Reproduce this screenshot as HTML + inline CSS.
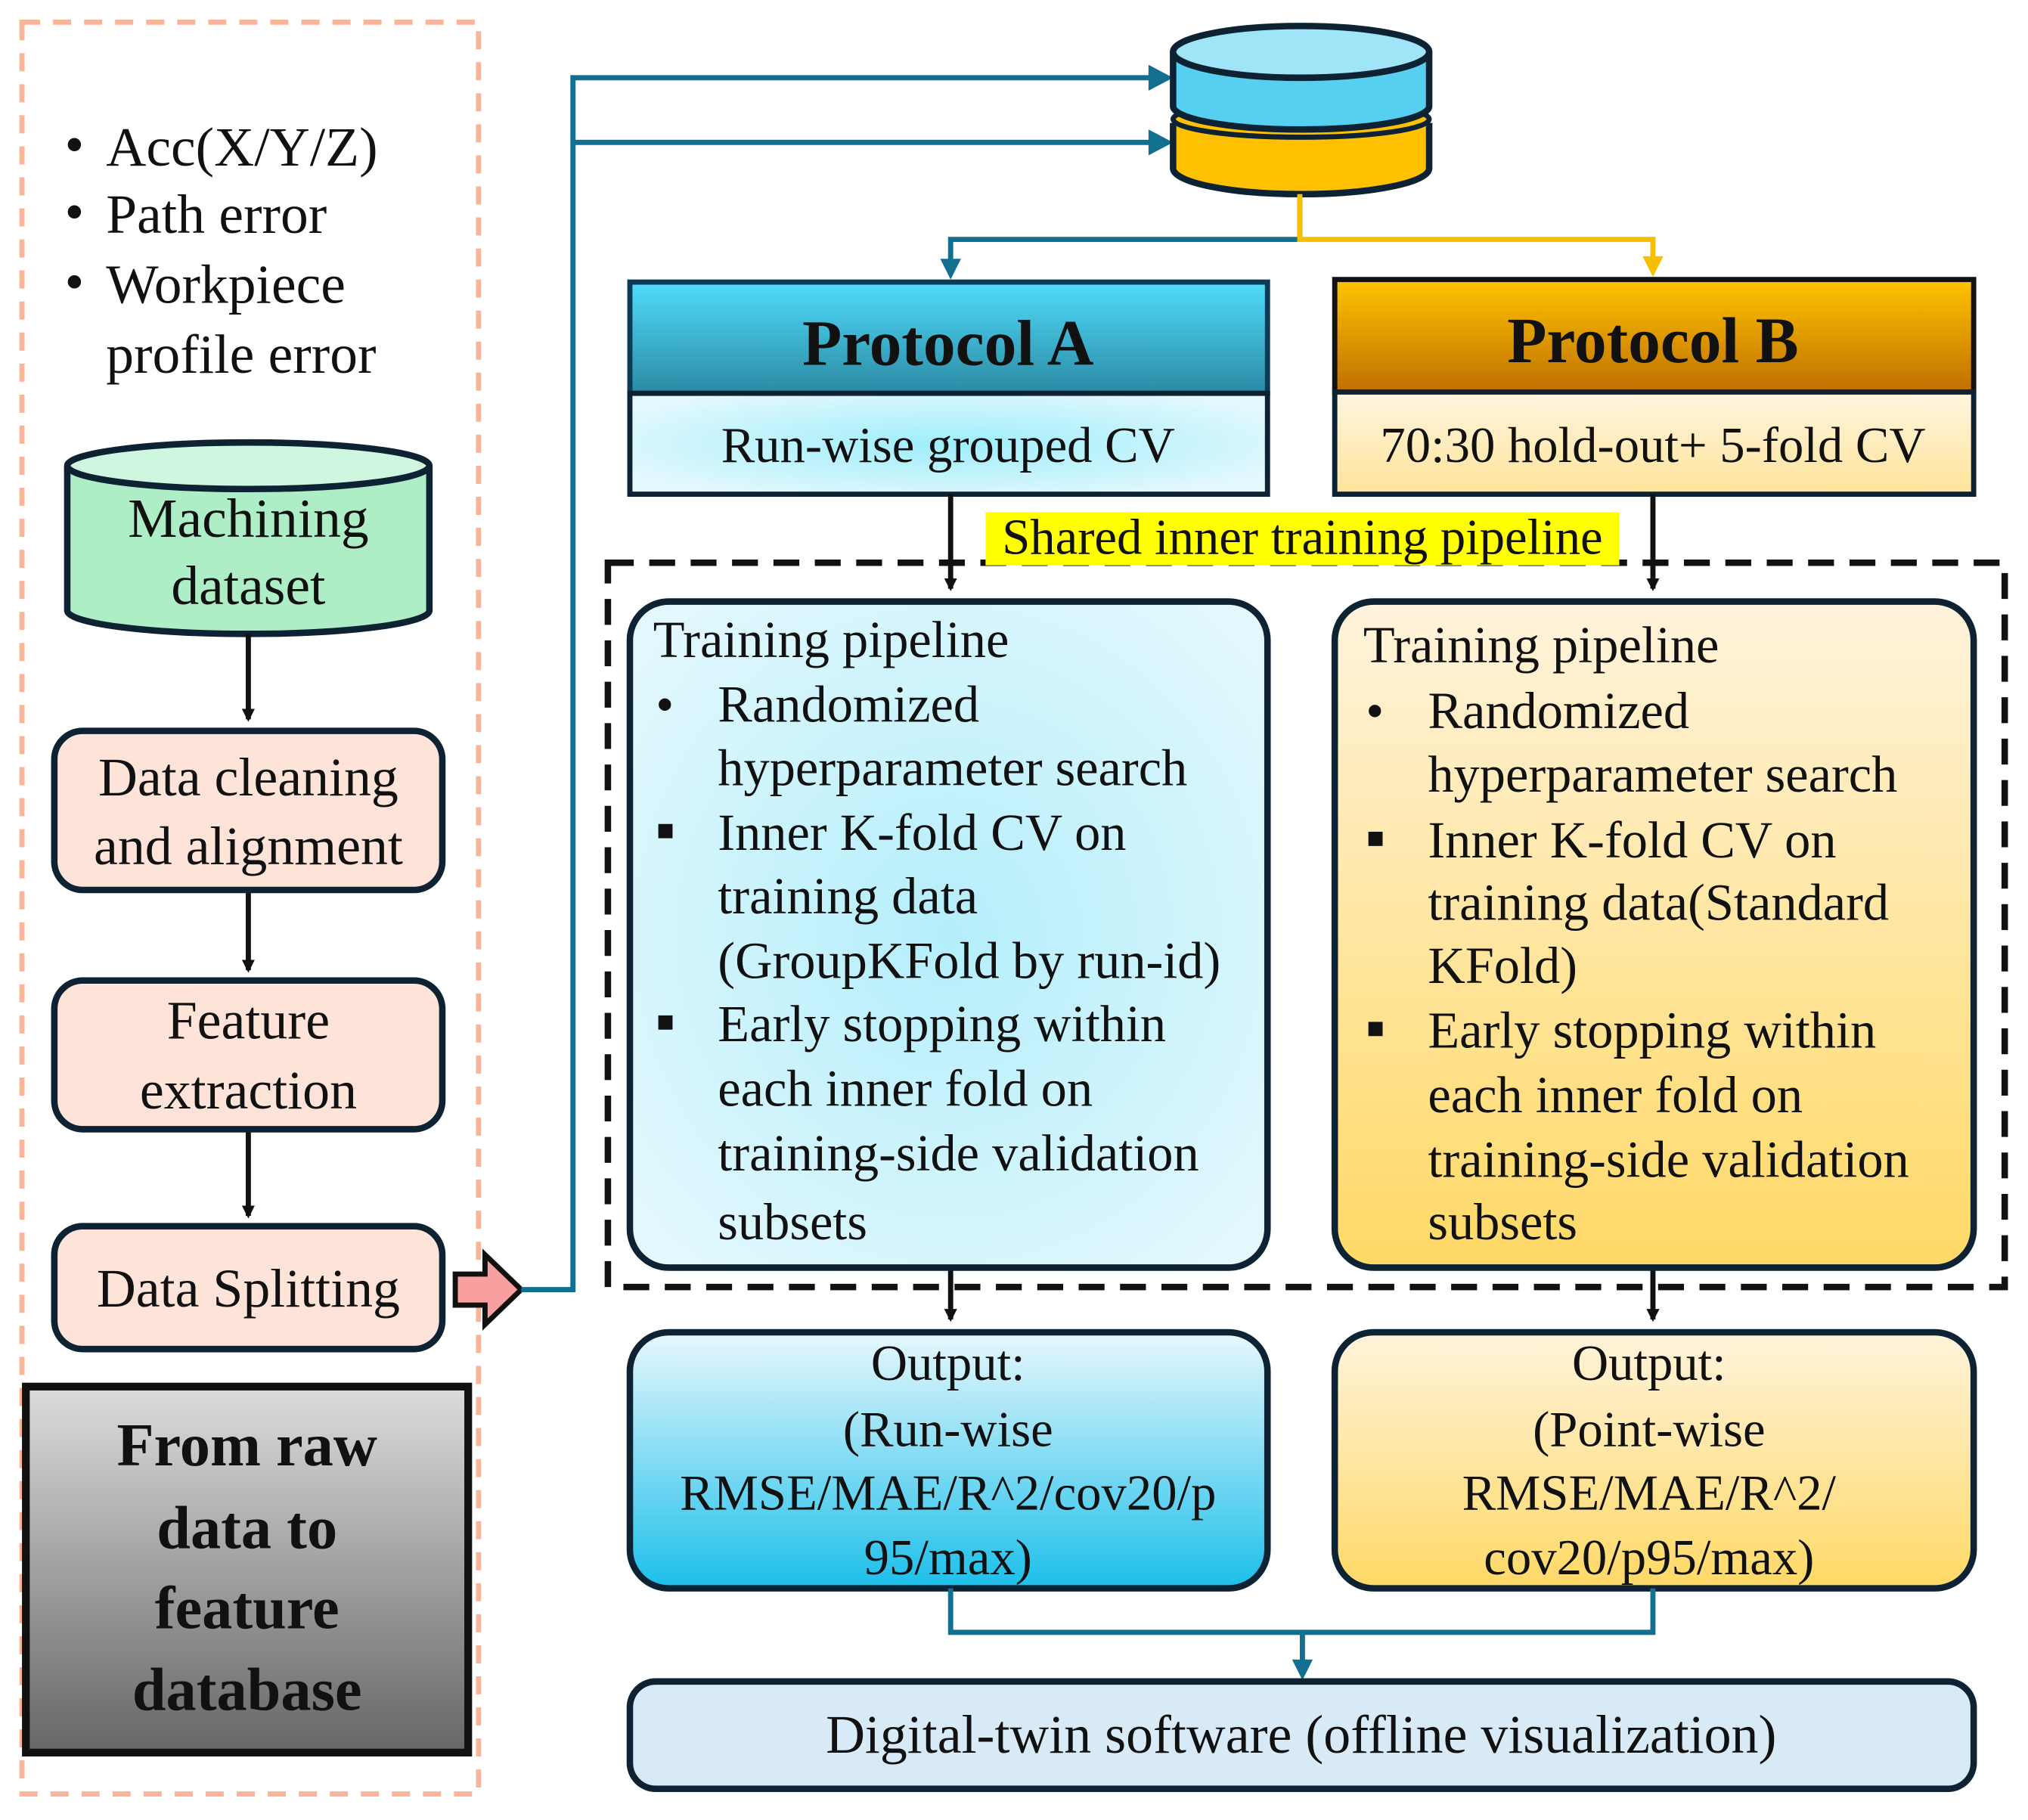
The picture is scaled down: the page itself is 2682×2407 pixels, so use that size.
<!DOCTYPE html>
<html><head><meta charset="utf-8"><style>
html,body{margin:0;padding:0;background:#fff}
svg{display:block}
text{font-family:"Liberation Serif",serif;fill:#111}
</style></head><body>
<svg width="2682" height="2407" viewBox="0 0 1568 1407" xmlns="http://www.w3.org/2000/svg">
<defs>
<linearGradient id="gray" x1="0" y1="0" x2="0" y2="1"><stop offset="0" stop-color="#dcdcdc"/><stop offset="1" stop-color="#666"/></linearGradient>
<linearGradient id="hA" x1="0" y1="0" x2="0" y2="1"><stop offset="0" stop-color="#4fdcfb"/><stop offset="1" stop-color="#2c8aa4"/></linearGradient>
<linearGradient id="hB" x1="0" y1="0" x2="0" y2="1"><stop offset="0" stop-color="#ffc400"/><stop offset="1" stop-color="#bf6f00"/></linearGradient>
<radialGradient id="sA" cx="0.5" cy="0.5" r="0.6"><stop offset="0" stop-color="#9eeefc"/><stop offset="1" stop-color="#e4f8fd"/></radialGradient>
<linearGradient id="sB" x1="0" y1="0" x2="0" y2="1"><stop offset="0" stop-color="#fff6e0"/><stop offset="1" stop-color="#ffe39a"/></linearGradient>
<radialGradient id="tA" cx="0.5" cy="0.5" r="0.7"><stop offset="0" stop-color="#b4eefb"/><stop offset="1" stop-color="#e6f9fd"/></radialGradient>
<linearGradient id="tB" x1="0" y1="0" x2="0" y2="1"><stop offset="0" stop-color="#fff3dc"/><stop offset="1" stop-color="#ffd966"/></linearGradient>
<linearGradient id="oA" x1="0" y1="0" x2="0" y2="1"><stop offset="0" stop-color="#e8f8fd"/><stop offset="1" stop-color="#1cbfea"/></linearGradient>
<marker id="ab" markerWidth="10" markerHeight="10" refX="8" refY="5" orient="auto" markerUnits="userSpaceOnUse" viewBox="0 0 10 10"><path d="M0,0 L10,5 L0,10z" fill="#111"/></marker>
</defs>

<rect x="17" y="17" width="353" height="1370" fill="none" stroke="#f9b59a" stroke-width="4" stroke-dasharray="14,10"/>
<g font-size="43">
<text x="50" y="126">•</text><text x="82" y="128">Acc(X/Y/Z)</text>
<text x="50" y="178">•</text><text x="82" y="180">Path error</text>
<text x="50" y="232">•</text><text x="82" y="234">Workpiece</text>
<text x="82" y="288">profile error</text>
</g>

<path d="M52,360 L52,472 A140,18 0 0 0 332,472 L332,360" fill="#aeeec7" stroke="#0d2233" stroke-width="5"/>
<ellipse cx="192" cy="360" rx="140" ry="18" fill="#cff7df" stroke="#0d2233" stroke-width="5"/>
<text x="192" y="415" font-size="43" text-anchor="middle">Machining</text>
<text x="192" y="467" font-size="43" text-anchor="middle">dataset</text>

<g stroke="#111" stroke-width="4">
<line x1="192" y1="490" x2="192" y2="556" marker-end="url(#ab)"/>
<line x1="192" y1="690" x2="192" y2="750" marker-end="url(#ab)"/>
<line x1="192" y1="875" x2="192" y2="940" marker-end="url(#ab)"/>
</g>
<g fill="#fde3d8" stroke="#0d2233" stroke-width="5">
<rect x="42" y="565" width="300" height="123" rx="22"/>
<rect x="42" y="758" width="300" height="115" rx="22"/>
<rect x="42" y="948" width="300" height="95" rx="22"/>
</g>
<g font-size="42" text-anchor="middle">
<text x="192" y="615">Data cleaning</text><text x="192" y="668">and alignment</text>
<text x="192" y="803">Feature</text><text x="192" y="857">extraction</text>
<text x="192" y="1010">Data Splitting</text>
</g>
<path d="M352,985 L375,985 L375,970 L403,997 L375,1024 L375,1009 L352,1009z" fill="#f8a0a0" stroke="#111" stroke-width="4"/>

<rect x="20" y="1072" width="342" height="283" fill="url(#gray)" stroke="#111" stroke-width="6"/>
<g font-size="47" font-weight="bold" text-anchor="middle">
<text x="191" y="1133">From raw</text><text x="191" y="1197">data to</text><text x="191" y="1259">feature</text><text x="191" y="1322">database</text>
</g>

<g fill="none" stroke="#11708f" stroke-width="4">
<polyline points="403,997 443,997 443,60 895,60"/>
<line x1="443" y1="110" x2="895" y2="110"/>
</g>
<path d="M888,50 L907,60 L888,70z M888,100 L907,110 L888,120z" fill="#11708f"/>

<path d="M907,95 L907,130 A99,20 0 0 0 1105,130 L1105,95" fill="#ffc000" stroke="#0d2233" stroke-width="5"/>
<ellipse cx="1006" cy="92" rx="99" ry="14" fill="#ffc000" stroke="#0d2233" stroke-width="4"/>
<path d="M907,40 L907,82 A99,18 0 0 0 1105,82 L1105,40" fill="#56cff0" stroke="#0d2233" stroke-width="5"/>
<ellipse cx="1006" cy="40" rx="99" ry="20" fill="#9fe4f7" stroke="#0d2233" stroke-width="5"/>

<polyline points="1005,150 1005,185 735,185 735,205" fill="none" stroke="#11708f" stroke-width="4"/>
<path d="M727,200 L735,216 L743,200z" fill="#11708f"/>
<polyline points="1005,150 1005,185 1278,185 1278,203" fill="none" stroke="#f6c000" stroke-width="4"/>
<path d="M1270,198 L1278,214 L1286,198z" fill="#f6c000"/>

<rect x="487" y="218" width="493" height="86" fill="url(#hA)" stroke="#0d3a55" stroke-width="4"/>
<rect x="487" y="304" width="493" height="78" fill="url(#sA)" stroke="#0d2233" stroke-width="4"/>
<text x="733" y="282" font-size="50" font-weight="bold" text-anchor="middle">Protocol A</text>
<text x="733" y="357" font-size="39" text-anchor="middle">Run-wise grouped CV</text>
<rect x="1032" y="216" width="494" height="87" fill="url(#hB)" stroke="#111" stroke-width="4"/>
<rect x="1032" y="303" width="494" height="79" fill="url(#sB)" stroke="#0d2233" stroke-width="4"/>
<text x="1278" y="280" font-size="50" font-weight="bold" text-anchor="middle">Protocol B</text>
<text x="1278" y="357" font-size="39" text-anchor="middle">70:30  hold-out+ 5-fold CV</text>

<rect x="470" y="435" width="1080" height="560" fill="none" stroke="#111" stroke-width="5" stroke-dasharray="20,12"/>
<rect x="762" y="396" width="490" height="41" fill="#ffff00"/>
<text x="1007" y="428" font-size="39" text-anchor="middle">Shared inner training pipeline</text>

<g stroke="#111" stroke-width="4">
<line x1="735" y1="382" x2="735" y2="455" marker-end="url(#ab)"/>
<line x1="1278" y1="382" x2="1278" y2="455" marker-end="url(#ab)"/>
<line x1="735" y1="980" x2="735" y2="1020" marker-end="url(#ab)"/>
<line x1="1278" y1="980" x2="1278" y2="1020" marker-end="url(#ab)"/>
</g>

<rect x="487" y="465" width="493" height="515" rx="30" fill="url(#tA)" stroke="#0d2233" stroke-width="5"/>
<rect x="1032" y="465" width="494" height="515" rx="30" fill="url(#tB)" stroke="#0d2233" stroke-width="5"/>
<g font-size="40">
<text x="505" y="508">Training pipeline</text>
<text x="507" y="558">•</text><text x="555" y="558">Randomized</text>
<text x="555" y="607">hyperparameter search</text>
<rect x="509" y="637" width="11" height="11" fill="#111"/><text x="555" y="657">Inner K-fold CV on</text>
<text x="555" y="706">training data</text>
<text x="555" y="756">(GroupKFold by run-id)</text>
<rect x="509" y="785" width="11" height="11" fill="#111"/><text x="555" y="805">Early stopping within</text>
<text x="555" y="855">each inner fold on</text>
<text x="555" y="905">training-side validation</text>
<text x="555" y="958">subsets</text>

<text x="1054" y="512">Training pipeline</text>
<text x="1056" y="563">•</text><text x="1104" y="563">Randomized</text>
<text x="1104" y="612">hyperparameter search</text>
<rect x="1058" y="643" width="11" height="11" fill="#111"/><text x="1104" y="663">Inner K-fold CV on</text>
<text x="1104" y="711">training data(Standard</text>
<text x="1104" y="760">KFold)</text>
<rect x="1058" y="790" width="11" height="11" fill="#111"/><text x="1104" y="810">Early stopping within</text>
<text x="1104" y="860">each inner fold on</text>
<text x="1104" y="910">training-side validation</text>
<text x="1104" y="958">subsets</text>
</g>

<rect x="487" y="1030" width="493" height="198" rx="30" fill="url(#oA)" stroke="#0d2233" stroke-width="5"/>
<rect x="1032" y="1030" width="494" height="198" rx="30" fill="url(#tB)" stroke="#0d2233" stroke-width="5"/>
<g font-size="39" text-anchor="middle">
<text x="733" y="1067">Output:</text><text x="733" y="1118">(Run-wise</text><text x="733" y="1167">RMSE/MAE/R^2/cov20/p</text><text x="733" y="1217">95/max)</text>
<text x="1275" y="1067">Output:</text><text x="1275" y="1118">(Point-wise</text><text x="1275" y="1167">RMSE/MAE/R^2/</text><text x="1275" y="1217">cov20/p95/max)</text>
</g>

<polyline points="735,1228 735,1262 1278,1262 1278,1228" fill="none" stroke="#11708f" stroke-width="4"/>
<line x1="1007" y1="1262" x2="1007" y2="1288" stroke="#11708f" stroke-width="4"/>
<path d="M999,1283 L1007,1299 L1015,1283z" fill="#11708f"/>

<rect x="487" y="1300" width="1039" height="83" rx="20" fill="#d9eaf7" stroke="#0d2233" stroke-width="5"/>
<text x="1006" y="1355" font-size="42" text-anchor="middle">Digital-twin  software (offline  visualization)</text>
</svg>
</body></html>
